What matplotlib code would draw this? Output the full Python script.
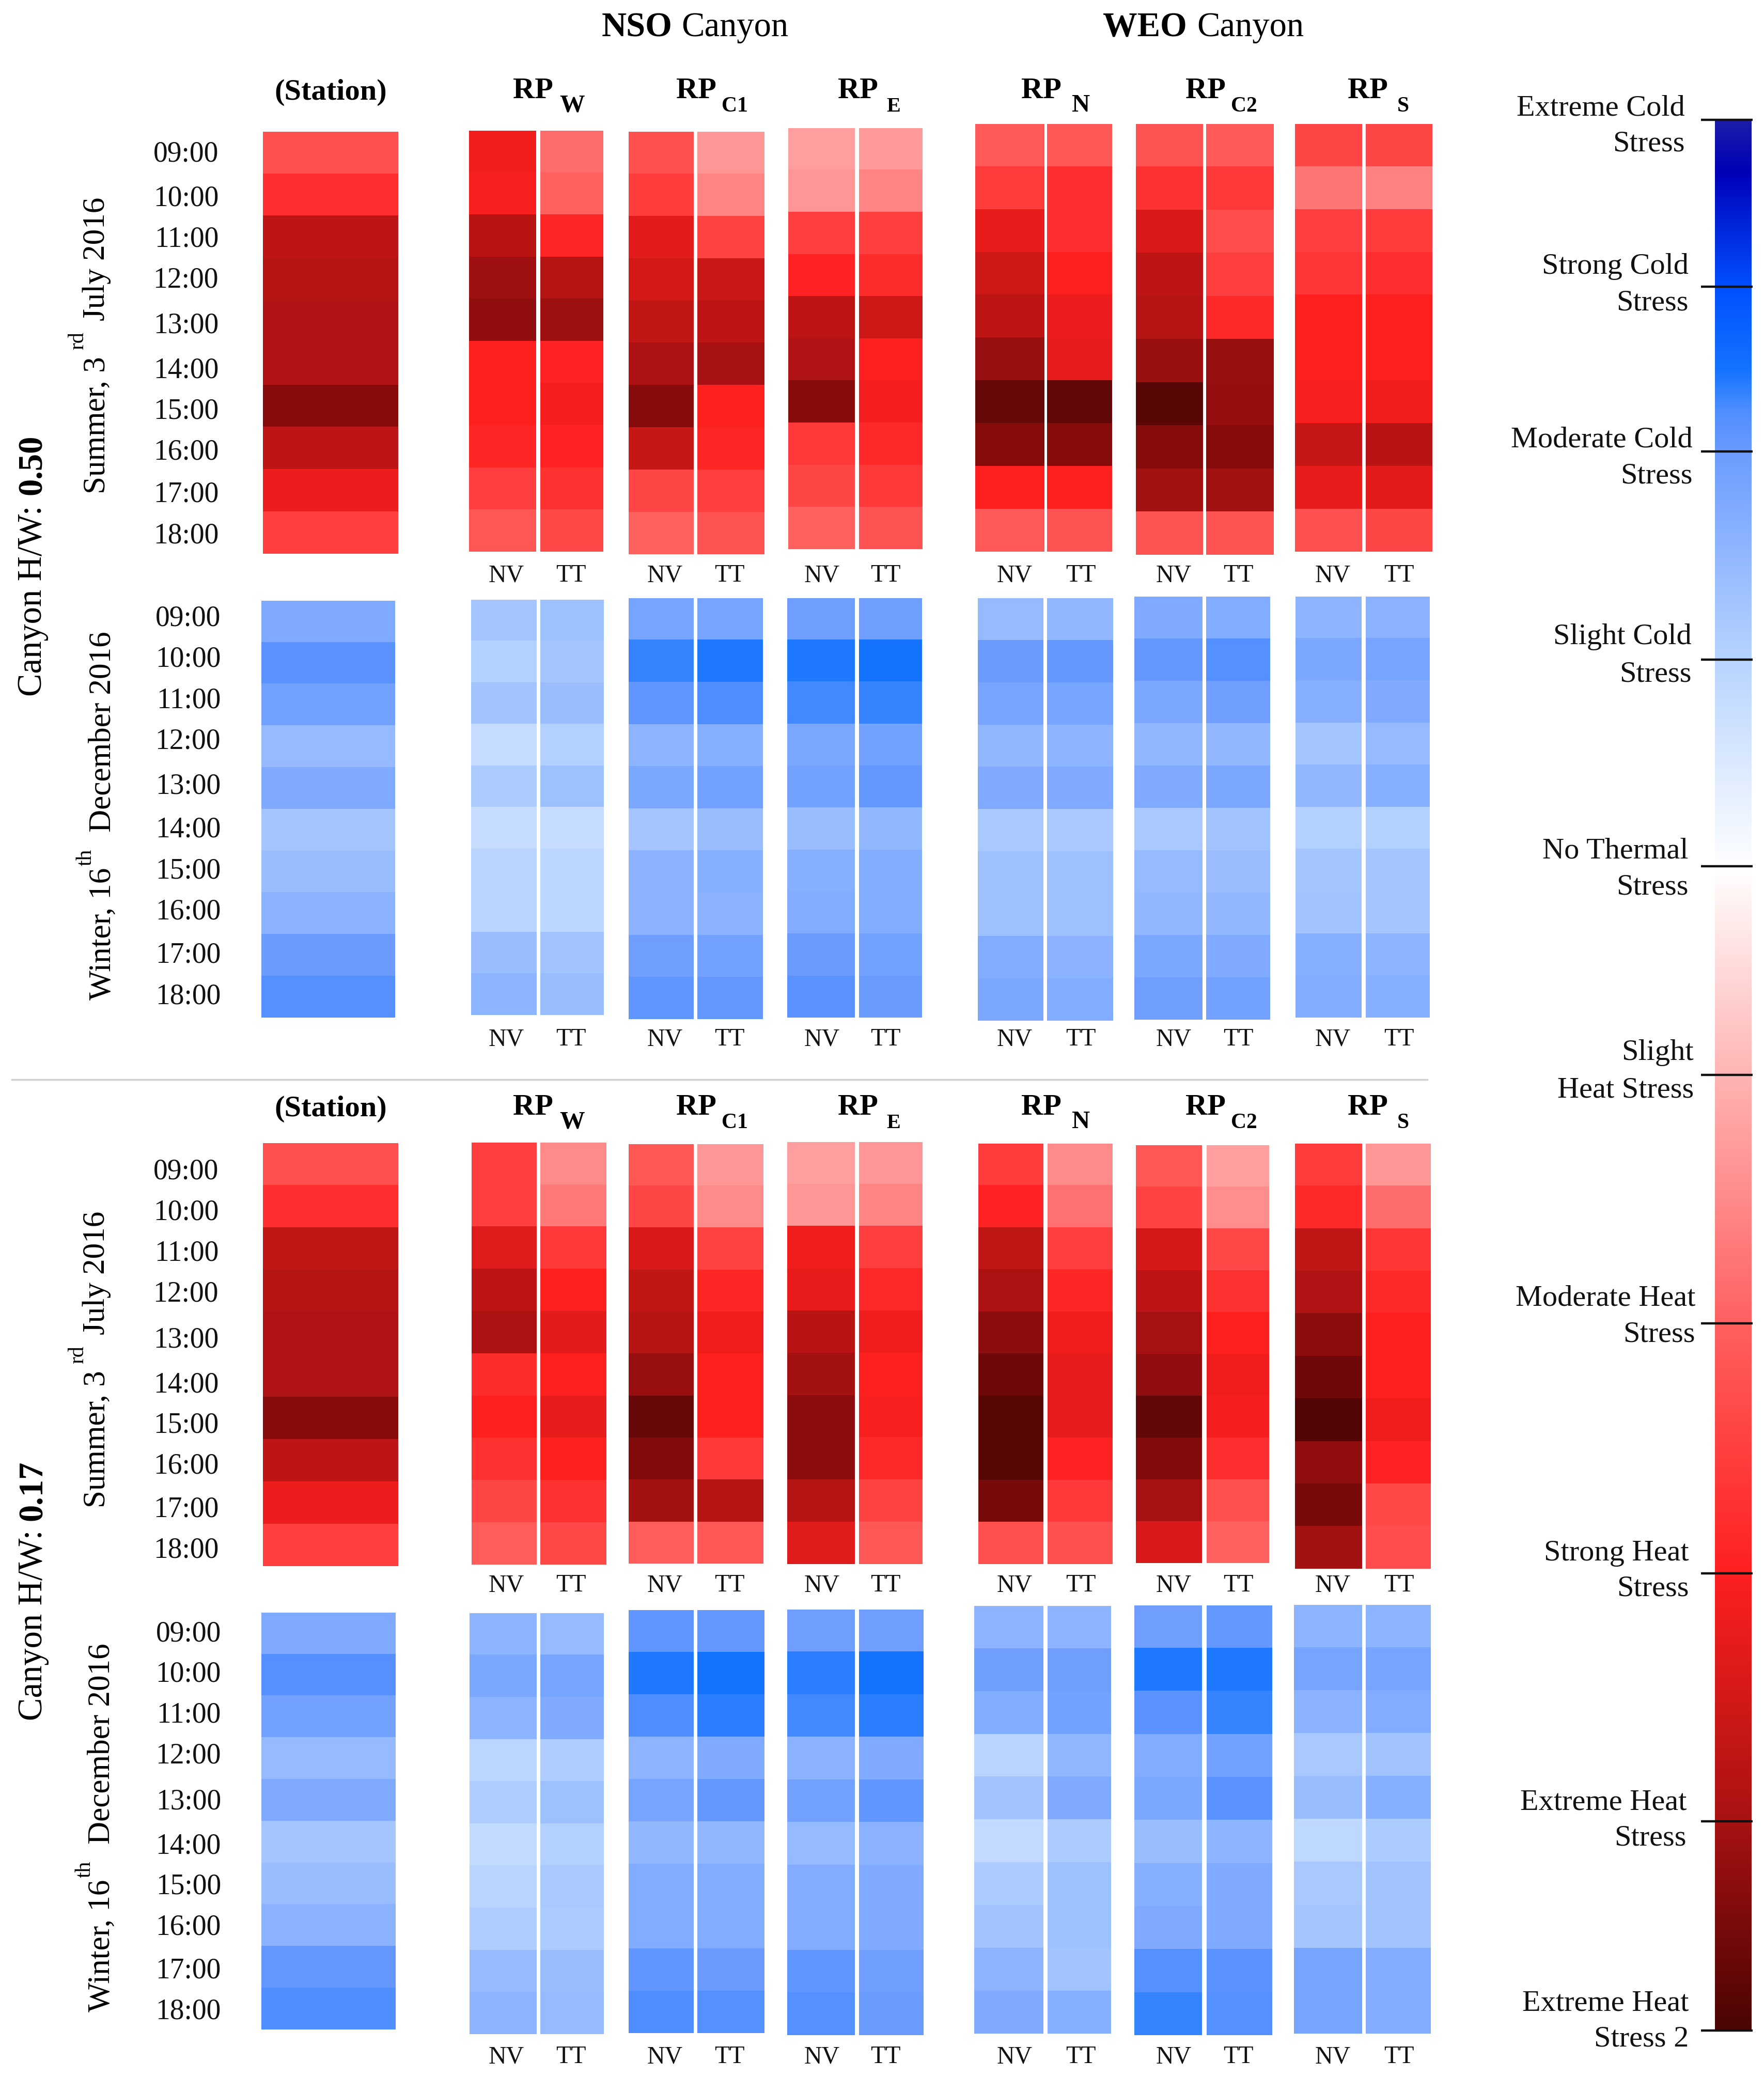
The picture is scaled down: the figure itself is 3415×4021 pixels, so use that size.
import numpy as np
import matplotlib
matplotlib.use('Agg')
import matplotlib.pyplot as plt
from matplotlib.colors import LinearSegmentedColormap, Normalize

plt.rcParams['font.family'] = ['Liberation Serif', 'DejaVu Serif']

W, H = 3415, 4021

# thermal stress level: 0 none, + heat, - cold (colour bar classes)
hours = ['09:00', '10:00', '11:00', '12:00', '13:00', '14:00', '15:00', '16:00', '17:00', '18:00']
stress_names = [['Extreme Cold', 'Stress'], ['Strong Cold', 'Stress'], ['Moderate Cold', 'Stress'],
                ['Slight Cold', 'Stress'], ['No Thermal', 'Stress'], ['Slight', 'Heat Stress'],
                ['Moderate Heat', 'Stress'], ['Strong Heat', 'Stress'], ['Extreme Heat', 'Stress'],
                ['Extreme Heat', 'Stress 2']]
stress_levels = [-4, -3, -2, -1, 0, 1, 2, 3, 4, 5]

# H/W 0.50 summer
s50_station = [2.25, 2.75, 3.75, 3.85, 3.9, 3.9, 4.35, 3.75, 3.2, 2.5]
s50_w_nv = [3.15, 3.05, 3.8, 4.1, 4.25, 3.0, 3.0, 2.9, 2.5, 2.15]
s50_w_tt = [1.85, 2.0, 2.9, 3.85, 4.1, 2.95, 3.1, 2.95, 2.7, 2.35]
s50_c1_nv = [2.25, 2.55, 3.3, 3.5, 3.7, 3.95, 4.35, 3.65, 2.4, 2.0]
s50_c1_tt = [1.35, 1.55, 2.45, 3.6, 3.75, 4.0, 3.0, 2.9, 2.5, 2.2]
s50_e_nv = [1.25, 1.35, 2.5, 2.95, 3.75, 3.9, 4.35, 2.6, 2.4, 2.0]
s50_e_tt = [1.3, 1.55, 2.5, 2.8, 3.55, 3.0, 3.1, 2.85, 2.6, 2.2]
s50_n_nv = [2.1, 2.55, 3.25, 3.55, 3.75, 4.15, 4.7, 4.35, 3.0, 2.1]
s50_n_tt = [2.15, 2.75, 2.75, 3.0, 3.2, 3.25, 4.75, 4.35, 3.0, 2.2]
s50_c2_nv = [2.2, 2.7, 3.45, 3.75, 3.85, 4.15, 4.85, 4.35, 4.05, 2.2]
s50_c2_tt = [2.1, 2.6, 2.3, 2.5, 2.85, 4.15, 4.2, 4.35, 4.05, 2.2]
s50_s_nv = [2.4, 1.75, 2.5, 2.65, 3.0, 3.0, 3.05, 3.65, 3.25, 2.25]
s50_s_tt = [2.4, 1.6, 2.55, 2.75, 3.0, 3.0, 3.15, 3.8, 3.3, 2.4]

# H/W 0.50 winter
w50_station = [-1.75, -2.15, -1.9, -1.45, -1.75, -1.25, -1.4, -1.6, -2.0, -2.2]
w50_w_nv = [-1.25, -1.05, -1.3, -0.8, -1.15, -0.8, -1.0, -1.0, -1.4, -1.55]
w50_w_tt = [-1.35, -1.25, -1.4, -1.05, -1.35, -0.8, -0.95, -0.95, -1.3, -1.4]
w50_c1_nv = [-1.85, -2.35, -2.1, -1.55, -1.8, -1.25, -1.6, -1.6, -1.95, -2.1]
w50_c1_tt = [-1.85, -2.45, -2.25, -1.65, -1.9, -1.4, -1.65, -1.6, -1.9, -2.05]
w50_e_nv = [-1.95, -2.45, -2.3, -1.8, -1.9, -1.4, -1.65, -1.7, -2.0, -2.15]
w50_e_tt = [-1.95, -2.5, -2.35, -1.9, -2.05, -1.5, -1.7, -1.7, -1.9, -2.0]
w50_n_nv = [-1.45, -2.0, -1.85, -1.5, -1.75, -1.2, -1.35, -1.35, -1.7, -1.8]
w50_n_tt = [-1.5, -2.05, -1.85, -1.55, -1.75, -1.2, -1.35, -1.35, -1.6, -1.7]
w50_c2_nv = [-1.75, -2.05, -1.8, -1.5, -1.75, -1.2, -1.45, -1.5, -1.8, -1.95]
w50_c2_tt = [-1.7, -2.2, -1.95, -1.5, -1.8, -1.3, -1.4, -1.5, -1.75, -1.9]
w50_s_nv = [-1.55, -1.8, -1.65, -1.25, -1.5, -1.05, -1.25, -1.3, -1.65, -1.7]
w50_s_tt = [-1.6, -1.85, -1.75, -1.45, -1.65, -1.05, -1.25, -1.25, -1.55, -1.65]

# H/W 0.17 summer
s17_station = [2.25, 2.75, 3.7, 3.85, 3.9, 3.9, 4.35, 3.75, 3.2, 2.5]
s17_w_nv = [2.5, 2.5, 3.35, 3.75, 3.95, 2.8, 3.0, 2.7, 2.4, 2.05]
s17_w_tt = [1.5, 1.7, 2.6, 3.0, 3.3, 3.0, 3.25, 3.0, 2.7, 2.35]
s17_c1_nv = [2.15, 2.4, 3.45, 3.7, 3.85, 4.15, 4.7, 4.4, 4.05, 2.05]
s17_c1_tt = [1.35, 1.5, 2.45, 2.9, 3.15, 3.0, 3.0, 2.6, 3.85, 2.15]
s17_e_nv = [1.25, 1.35, 3.15, 3.25, 3.8, 4.05, 4.3, 4.3, 3.85, 3.35]
s17_e_tt = [1.35, 1.55, 2.5, 2.85, 3.15, 3.0, 3.05, 2.85, 2.45, 2.15]
s17_n_nv = [2.55, 2.95, 3.7, 3.95, 4.3, 4.6, 4.85, 4.85, 4.5, 2.25]
s17_n_tt = [1.5, 1.8, 2.5, 2.9, 3.15, 3.25, 3.25, 2.95, 2.6, 2.25]
s17_c2_nv = [2.15, 2.45, 3.5, 3.75, 4.0, 4.25, 4.75, 4.4, 4.0, 3.45]
s17_c2_tt = [1.25, 1.45, 2.35, 2.7, 3.0, 3.15, 3.1, 2.75, 2.25, 2.0]
s17_s_nv = [2.55, 2.85, 3.7, 3.9, 4.3, 4.6, 4.9, 4.25, 4.5, 4.05]
s17_s_tt = [1.35, 1.85, 2.65, 2.85, 3.0, 3.0, 3.15, 2.95, 2.35, 2.3]

# H/W 0.17 winter
w17_station = [-1.75, -2.2, -1.9, -1.45, -1.75, -1.25, -1.4, -1.6, -2.05, -2.25]
w17_w_nv = [-1.55, -1.8, -1.55, -0.95, -1.1, -0.85, -1.0, -1.1, -1.45, -1.55]
w17_w_tt = [-1.45, -1.85, -1.75, -1.1, -1.35, -1.05, -1.2, -1.15, -1.4, -1.45]
w17_c1_nv = [-2.1, -2.45, -2.25, -1.55, -1.85, -1.5, -1.7, -1.7, -2.1, -2.25]
w17_c1_tt = [-2.05, -2.5, -2.4, -1.75, -2.05, -1.5, -1.7, -1.7, -2.0, -2.2]
w17_e_nv = [-1.95, -2.4, -2.3, -1.6, -1.9, -1.45, -1.7, -1.7, -2.1, -2.2]
w17_e_tt = [-1.95, -2.5, -2.4, -1.75, -2.1, -1.6, -1.75, -1.75, -1.95, -2.0]
w17_n_nv = [-1.55, -1.95, -1.7, -1.0, -1.3, -0.85, -1.15, -1.3, -1.55, -1.75]
w17_n_tt = [-1.55, -1.95, -1.9, -1.5, -1.75, -1.15, -1.35, -1.35, -1.3, -1.65]
w17_c2_nv = [-1.95, -2.45, -2.15, -1.7, -1.8, -1.4, -1.65, -1.75, -2.2, -2.35]
w17_c2_tt = [-2.05, -2.45, -2.35, -1.9, -2.15, -1.55, -1.75, -1.75, -2.15, -2.2]
w17_s_nv = [-1.55, -1.85, -1.6, -1.2, -1.4, -0.9, -1.2, -1.25, -1.85, -1.85]
w17_s_tt = [-1.55, -1.85, -1.7, -1.3, -1.65, -1.15, -1.3, -1.3, -1.7, -1.7]

# colour ramp, level -> colour, same ramp as the bar on the right
vmin, vmax = -4, 5
stops = [(-4, '#1c1ca8'), (-3.7, '#0000b8'), (-3, '#0050ff'), (-2.5, '#1474ff'), (-2.25, '#4f8eff'), (-2, '#6c9cff'),
         (-1, '#b8d4ff'), (0, '#ffffff'), (1, '#ffb4b4'), (2, '#ff6060'), (3, '#ff2020'),
         (4, '#a81212'), (5, '#4a0404')]
cmap = LinearSegmentedColormap.from_list('stress', [((v - vmin) / (vmax - vmin), c) for v, c in stops], N=1024)
norm = Normalize(vmin, vmax)

fig = plt.figure(figsize=(W / 100, (H + 0.01) / 100), dpi=100, facecolor='white')


def px_axes(x0, x1, y0, y1):
    ax = fig.add_axes([x0 / W, 1 - y1 / H, (x1 - x0) / W, (y1 - y0) / H])
    ax.axis('off')
    return ax


def cell_column(values, x0, x1, y0, y1):
    ax = px_axes(x0, x1, y0, y1)
    ax.imshow(np.array(values).reshape(-1, 1), cmap=cmap, norm=norm, aspect='auto', interpolation='nearest')


def panel(station, station_box, columns, boxes):
    cell_column(station, *station_box)
    for vals, box in zip(columns, boxes):
        cell_column(vals, *box)


panel(s50_station, (509, 771, 255, 1072),
      [s50_w_nv, s50_w_tt, s50_c1_nv, s50_c1_tt, s50_e_nv, s50_e_tt, s50_n_nv, s50_n_tt, s50_c2_nv, s50_c2_tt, s50_s_nv, s50_s_tt],
      [(908, 1038, 253, 1068), (1046, 1168, 253, 1068), (1217, 1343, 255, 1073), (1350, 1480, 255, 1073),
       (1526, 1655, 248, 1063), (1663, 1786, 248, 1063), (1888, 2022, 240, 1068), (2027, 2153, 240, 1068),
       (2199, 2329, 240, 1074), (2335, 2466, 240, 1074), (2507, 2637, 240, 1068), (2644, 2773, 240, 1068)])
panel(w50_station, (506, 765, 1163, 1970),
      [w50_w_nv, w50_w_tt, w50_c1_nv, w50_c1_tt, w50_e_nv, w50_e_tt, w50_n_nv, w50_n_tt, w50_c2_nv, w50_c2_tt, w50_s_nv, w50_s_tt],
      [(912, 1039, 1161, 1965), (1046, 1169, 1161, 1965), (1217, 1343, 1158, 1973), (1350, 1477, 1158, 1973),
       (1524, 1655, 1158, 1970), (1663, 1785, 1158, 1970), (1893, 2020, 1158, 1976), (2027, 2155, 1158, 1976),
       (2196, 2328, 1155, 1974), (2335, 2459, 1155, 1974), (2508, 2636, 1155, 1970), (2644, 2768, 1155, 1970)])
panel(s17_station, (509, 771, 2213, 3032),
      [s17_w_nv, s17_w_tt, s17_c1_nv, s17_c1_tt, s17_e_nv, s17_e_tt, s17_n_nv, s17_n_tt, s17_c2_nv, s17_c2_tt, s17_s_nv, s17_s_tt],
      [(913, 1039, 2212, 3029), (1046, 1174, 2212, 3029), (1217, 1343, 2215, 3027), (1350, 1478, 2215, 3027),
       (1524, 1655, 2211, 3028), (1663, 1786, 2211, 3028), (1894, 2020, 2214, 3028), (2028, 2154, 2214, 3028),
       (2199, 2327, 2217, 3026), (2336, 2457, 2217, 3026), (2507, 2637, 2214, 3037), (2644, 2770, 2214, 3037)])
panel(w17_station, (506, 766, 3122, 3929),
      [w17_w_nv, w17_w_tt, w17_c1_nv, w17_c1_tt, w17_e_nv, w17_e_tt, w17_n_nv, w17_n_tt, w17_c2_nv, w17_c2_tt, w17_s_nv, w17_s_tt],
      [(909, 1039, 3123, 3938), (1046, 1169, 3123, 3938), (1217, 1343, 3117, 3936), (1350, 1480, 3117, 3936),
       (1524, 1655, 3116, 3940), (1663, 1788, 3116, 3940), (1886, 2020, 3109, 3937), (2028, 2151, 3109, 3937),
       (2196, 2327, 3108, 3940), (2336, 2463, 3108, 3940), (2505, 2637, 3107, 3937), (2644, 2770, 3107, 3937)])

# colour bar
tick_px = [232, 555, 874, 1277, 1677, 2081, 2562, 3046, 3526, 3931]
bar = px_axes(3320, 3391, 232, 3931)
bar_y = np.arange(232, 3932, 4)
bar.imshow(np.interp(bar_y, tick_px, stress_levels).reshape(-1, 1), cmap=cmap, norm=norm, aspect='auto')

# everything else goes on a full figure overlay in picture pixels
ov = fig.add_axes([0, 0, 1, 1], zorder=10)
ov.set_xlim(0, W)
ov.set_ylim(H, 0)
ov.axis('off')
ov.patch.set_alpha(0)

for y in tick_px:
    ov.plot([3293, 3393], [y, y], color='#111111', lw=3.2, solid_capstyle='butt')
ov.plot([23, 2763], [2090, 2090], color='#d0d0d0', lw=2.5)

# stress labels
label_right = [3262, 3269, 3277, 3275, 3269, 3279, 3282, 3270, 3265, 3269]
label_y = [(207, 276), (514, 584), (849, 919), (1231, 1303), (1645, 1715),
           (2036, 2108), (2511, 2581), (3005, 3073), (3487, 3556), (3876, 3945)]
for lines, xr, ys in zip(stress_names, label_right, label_y):
    for s, y in zip(lines, ys):
        ov.text(xr, y + 16, s, ha='right', va='baseline', fontsize=42, color='#111111')

# canyon titles
ov.text(1302, 70, 'NSO', ha='right', va='baseline', fontsize=48, fontweight='bold')
ov.text(1319, 70, 'Canyon', ha='left', va='baseline', fontsize=48)
ov.text(2298, 70, 'WEO', ha='right', va='baseline', fontsize=48, fontweight='bold')
ov.text(2317, 70, 'Canyon', ha='left', va='baseline', fontsize=48)

# column headers, x of RP and x of its subscript
rp_heads = [(993, 'W', 1083, 35), (1309, 'C1', 1397, 30), (1622, 'E', 1716, 29),
            (1977, 'N', 2074, 35), (2295, 'C2', 2383, 30), (2609, 'S', 2705, 30)]
for dy in (0, 1968):
    ov.text(640, 193 + dy, '(Station)', ha='center', va='baseline', fontsize=42, fontweight='bold')
    for xrp, sub, xsub, fs in rp_heads:
        ov.text(xrp, 190 + dy, 'RP', ha='left', va='baseline', fontsize=42, fontweight='bold')
        ov.text(xsub, 216 + dy, sub, ha='left', va='baseline', fontsize=fs, fontweight='bold')

# NV / TT under each pair
pair_x = [(980, 1105), (1287, 1412), (1591, 1714), (1964, 2092), (2272, 2397), (2580, 2708)]
for y in (1110, 2008, 3065, 3978):
    for xn, xt in pair_x:
        ov.text(xn, y + 16, 'NV', ha='center', va='baseline', fontsize=34.5, color='#111111')
        ov.text(xt, y + 16, 'TT', ha='center', va='baseline', fontsize=34.5, color='#111111')

# hour labels
hour_rows = [(423, [293, 379, 458, 537, 625, 712, 791, 870, 952, 1032]),
             (427, [1192, 1271, 1351, 1430, 1517, 1601, 1681, 1760, 1844, 1924]),
             (423, [2263, 2342, 2421, 2500, 2589, 2676, 2754, 2833, 2917, 2996]),
             (428, [3158, 3236, 3315, 3394, 3483, 3569, 3647, 3726, 3810, 3889])]
for xr, ys in hour_rows:
    for s, y in zip(hours, ys):
        ov.text(xr, y + 19, s, ha='right', va='baseline', fontsize=40, color='#111111')


def vtext(x, y, s, fs, **kw):
    ov.text(x, y, s, rotation=90, rotation_mode='anchor', ha='left', va='baseline', fontsize=fs, **kw)


# rotated side labels, pieces placed one after the other
for dy in (0, 1963):
    vtext(202, 956 + dy, 'Summer, 3', 44)
    vtext(161, 677 + dy, 'rd', 30)
    vtext(202, 621 + dy, 'July 2016', 44)
for x, dy in ((213, -1959), (211, 0)):
    vtext(x, 3895 + dy, 'Winter, 16', 44)
    vtext(x - 36, 3635 + dy, 'th', 30)
    vtext(x, 3570 + dy, 'December 2016', 44)
vtext(80, 1348, 'Canyon H/W:', 48)
vtext(80, 958, '0.50', 48, fontweight='bold')
vtext(81, 3331, 'Canyon H/W:', 48)
vtext(81, 2944, '0.17', 48, fontweight='bold')

fig.savefig('out.png', dpi=100, facecolor='white')
